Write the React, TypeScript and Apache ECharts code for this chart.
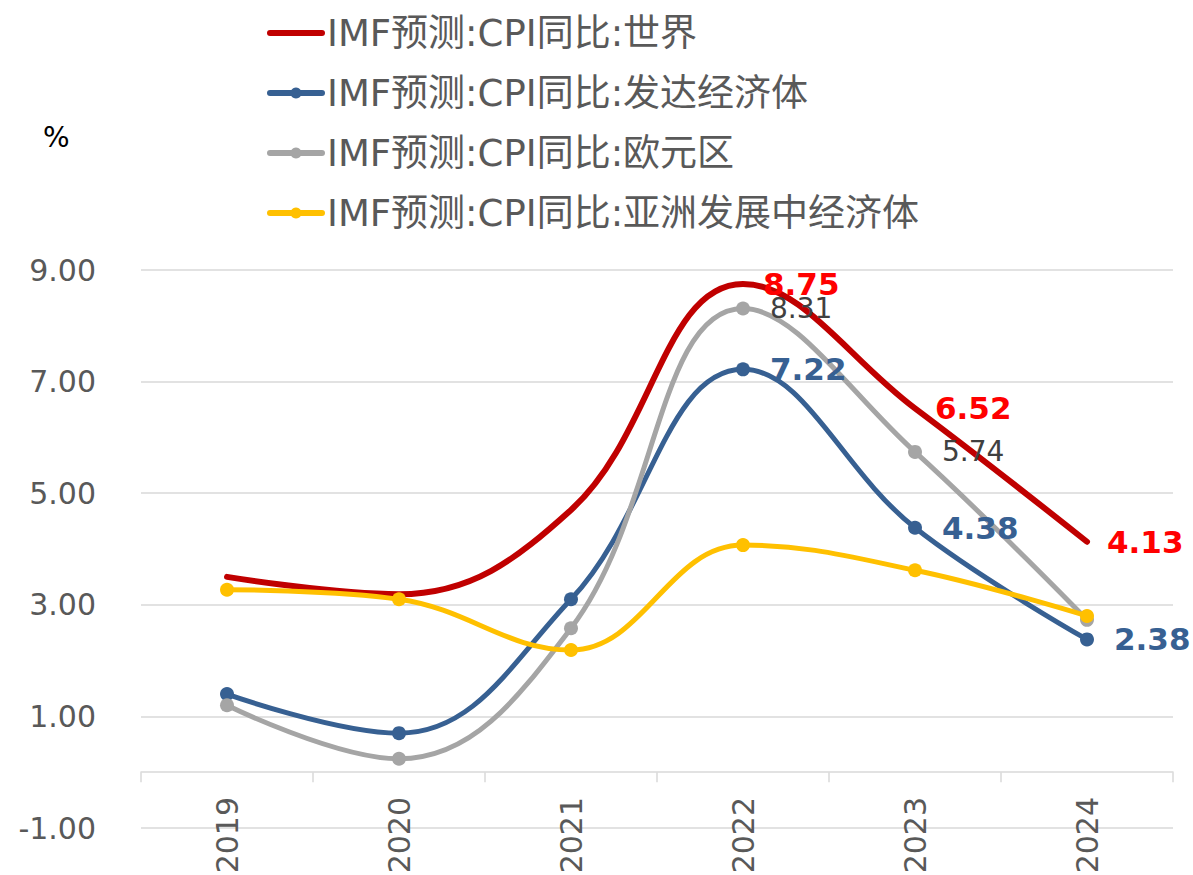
import React, { useEffect, useRef } from "react";
import * as echarts from "echarts";

const years = ["2019", "2020", "2021", "2022", "2023", "2024"];
const seriesNames = [
  "IMF预测:CPI同比:世界",
  "IMF预测:CPI同比:发达经济体",
  "IMF预测:CPI同比:欧元区",
  "IMF预测:CPI同比:亚洲发展中经济体",
];
const worldValues = [3.5, 3.19, 4.7, 8.75, 6.52, 4.13];
const advancedValues = [1.4, 0.7, 3.1, 7.22, 4.38, 2.38];
const euroValues = [1.2, 0.24, 2.58, 8.31, 5.74, 2.73];
const asiaValues = [3.27, 3.1, 2.19, 4.07, 3.62, 2.8];
const worldLabelIdx = [3, 4, 5];
const advancedLabelIdx = [3, 4, 5];
const euroLabelIdx = [3, 4];
const asiaLabelIdx: number[] = [];
const yTicks = { min: -1, max: 9, interval: 2 };

const FONT = "'DejaVu Sans', 'Noto Sans CJK SC', sans-serif";

function buildData(values: number[], idx: number[], labelStyle: any) {
  return values.map((v, i) =>
    idx.includes(i)
      ? {
          value: v,
          label: {
            show: true,
            position: "right",
            distance: 20,
            formatter: (p: any) => Number(p.value).toFixed(2),
            fontFamily: FONT,
            ...labelStyle,
          },
        }
      : { value: v }
  );
}

export default function App() {
  const ref = useRef<HTMLDivElement>(null);
  useEffect(() => {
    document.body.style.margin = "0";
    const chart = echarts.init(ref.current!, null, { renderer: "svg" });
    const colors = ["#C00000", "#376092", "#A5A5A5", "#FFC000"];
    const mk = (i: number, values: number[], idx: number[], lbl: any, symbol: boolean) => ({
      name: seriesNames[i],
      type: "line",
      smooth: 0.4,
      data: buildData(values, idx, lbl),
      symbol: "circle",
      symbolSize: symbol ? 14 : 0,
      showSymbol: true,
      lineStyle: { width: i === 0 ? 6 : 5, color: colors[i], cap: "round" },
      itemStyle: { color: colors[i] },
      emphasis: { disabled: true },
    });
    chart.setOption({
      animation: false,
      color: colors,
      legend: {
        orient: "vertical",
        left: 267,
        top: 13,
        padding: 0,
        itemWidth: 52,
        itemHeight: 14,
        itemGap: 20,
        textStyle: { fontFamily: FONT, fontSize: 37, color: "#595959", lineHeight: 40 },
        data: seriesNames.map((n, i) => ({
          name: n,
          lineStyle: { width: 6, cap: "round", color: colors[i] },
          itemStyle: i === 0 ? { opacity: 0 } : { color: colors[i] },
        })),
      },
      graphic: [
        {
          type: "text",
          left: 43,
          top: 123,
          style: { text: "%", fontFamily: FONT, fontSize: 28, fill: "#000000" },
        },
      ],
      grid: { left: 141, right: 20, top: 270, bottom: 47, containLabel: false, outerBoundsMode: "none" },
      xAxis: {
        type: "category",
        data: years,
        boundaryGap: true,
        axisLine: { onZero: true, lineStyle: { color: "#D9D9D9", width: 1.5 } },
        axisTick: { show: true, alignWithLabel: false, length: 10, lineStyle: { color: "#D9D9D9", width: 1.5 } },
        axisLabel: { rotate: 90, fontSize: 30, fontFamily: FONT, color: "#595959", margin: -31 },
        splitLine: { show: false },
      },
      yAxis: {
        type: "value",
        min: yTicks.min,
        max: yTicks.max,
        interval: yTicks.interval,
        axisLine: { show: false },
        axisTick: { show: false },
        axisLabel: {
          fontSize: 30,
          fontFamily: FONT,
          color: "#595959",
          margin: 45,
          formatter: (v: number) => v.toFixed(2),
        },
        splitLine: { lineStyle: { color: "#D9D9D9", width: 1.5 } },
      },
      series: [
        mk(0, worldValues, worldLabelIdx, { color: "#FF0000", fontWeight: "bold", fontSize: 31 }, false),
        mk(1, advancedValues, advancedLabelIdx, { color: "#376092", fontWeight: "bold", fontSize: 31 }, true),
        mk(2, euroValues, euroLabelIdx, { color: "#404040", fontWeight: "normal", fontSize: 28 }, true),
        mk(3, asiaValues, asiaLabelIdx, { color: "#404040", fontSize: 28 }, true),
      ],
    });
    return () => chart.dispose();
  }, []);
  return <div ref={ref} style={{ width: 1193, height: 875 }} />;
}
